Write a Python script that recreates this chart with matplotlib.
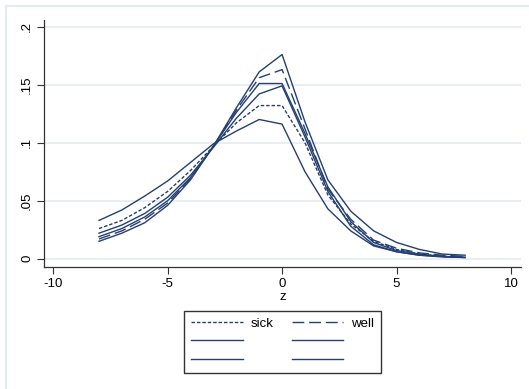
import numpy as np
import matplotlib
matplotlib.use("Agg")
import matplotlib.pyplot as plt
from matplotlib.lines import Line2D

plt.rcParams["font.family"] = ["Liberation Sans", "DejaVu Sans"]

# grid of z values and the six density curves
z = [-8, -7, -6, -5, -4, -3, -2, -1, 0, 1, 2, 3, 4, 5, 6, 7, 8]

sick = [0.026, 0.033, 0.044, 0.058, 0.076, 0.097, 0.117, 0.132, 0.132,
        0.100, 0.055, 0.030, 0.015, 0.008, 0.004, 0.002, 0.001]
well = [0.017, 0.024, 0.034, 0.048, 0.069, 0.097, 0.128, 0.156, 0.163,
        0.112, 0.060, 0.034, 0.016, 0.009, 0.005, 0.003, 0.002]
fit_a = [0.033, 0.042, 0.054, 0.067, 0.083, 0.099, 0.110, 0.120, 0.116,
         0.075, 0.043, 0.024, 0.011, 0.006, 0.003, 0.002, 0.001]
fit_b = [0.022, 0.029, 0.039, 0.053, 0.072, 0.096, 0.121, 0.142, 0.149,
         0.105, 0.058, 0.028, 0.012, 0.006, 0.003, 0.0015, 0.001]
fit_c = [0.019, 0.026, 0.036, 0.050, 0.070, 0.097, 0.126, 0.151, 0.151,
         0.108, 0.062, 0.032, 0.014, 0.007, 0.004, 0.002, 0.0012]
fit_d = [0.015, 0.022, 0.031, 0.046, 0.068, 0.097, 0.130, 0.161, 0.176,
         0.118, 0.068, 0.041, 0.024, 0.014, 0.008, 0.004, 0.003]

xticks = [-10, -5, 0, 5, 10]
yticks = [0, 0.05, 0.1, 0.15, 0.2]
ytick_labels = ["0", ".05", ".1", ".15", ".2"]

navy = "#243f72"
grid_col = "#e4ebf1"

W, H = 529, 389
fig = plt.figure(figsize=(W / 100, H / 100), dpi=100)
ax = fig.add_axes([44.3 / W, 1 - 267 / H, (521 - 44.3) / W, (267 - 19.6) / H])

lw = 1.0
ax.plot(z, sick, color=navy, lw=lw, dashes=(2.5, 1.4))
ax.plot(z, well, color=navy, lw=lw, dashes=(8.5, 3.5))
for s in (fit_a, fit_b, fit_c, fit_d):
    ax.plot(z, s, color=navy, lw=lw)

ax.set_xlim(-10.39, 10.44)
ax.set_ylim(-0.00716, 0.2061)
ax.set_xticks(xticks)
ax.set_xticklabels([str(t) for t in xticks])
ax.set_yticks(yticks)
ax.set_yticklabels(ytick_labels, rotation=90, va="center")
ax.tick_params(axis="both", labelsize=9.5, length=5, width=0.8, color="#333333", pad=3)
ax.yaxis.grid(True, color=grid_col, lw=1.2)
ax.set_axisbelow(True)
for side in ("top", "right"):
    ax.spines[side].set_visible(False)
for side in ("left", "bottom"):
    ax.spines[side].set_color("#333333")
    ax.spines[side].set_linewidth(0.9)
ax.set_xlabel("z", fontsize=9.5, labelpad=1)

# legend: two columns, filled row by row
h = lambda d: Line2D([], [], color=navy, lw=lw, dashes=d) if d else Line2D([], [], color=navy, lw=lw)
handles = [h((2.5, 1.4)), h(None), h(None), h((8.5, 3.5)), h(None), h(None)]
labels = ["sick", "", "", "well", "", ""]
leg = fig.legend(handles, labels, ncol=2, loc="upper center",
                 bbox_to_anchor=(282.6 / W, 1 - 311 / H), fontsize=9.5,
                 frameon=True, fancybox=False, handlelength=3.9,
                 handletextpad=0.6, columnspacing=1.4, labelspacing=0.45,
                 borderpad=0.5, borderaxespad=0)
leg.get_frame().set_edgecolor("black")
leg.get_frame().set_linewidth(1.0)

# outer graph region border
fig.add_artist(Line2D([6 / W, 1], [1 - 6 / H, 1 - 6 / H], color=grid_col, lw=1.5))
fig.add_artist(Line2D([6 / W, 6 / W], [0, 1 - 6 / H], color=grid_col, lw=1.5))

fig.savefig("out.png", dpi=100)
